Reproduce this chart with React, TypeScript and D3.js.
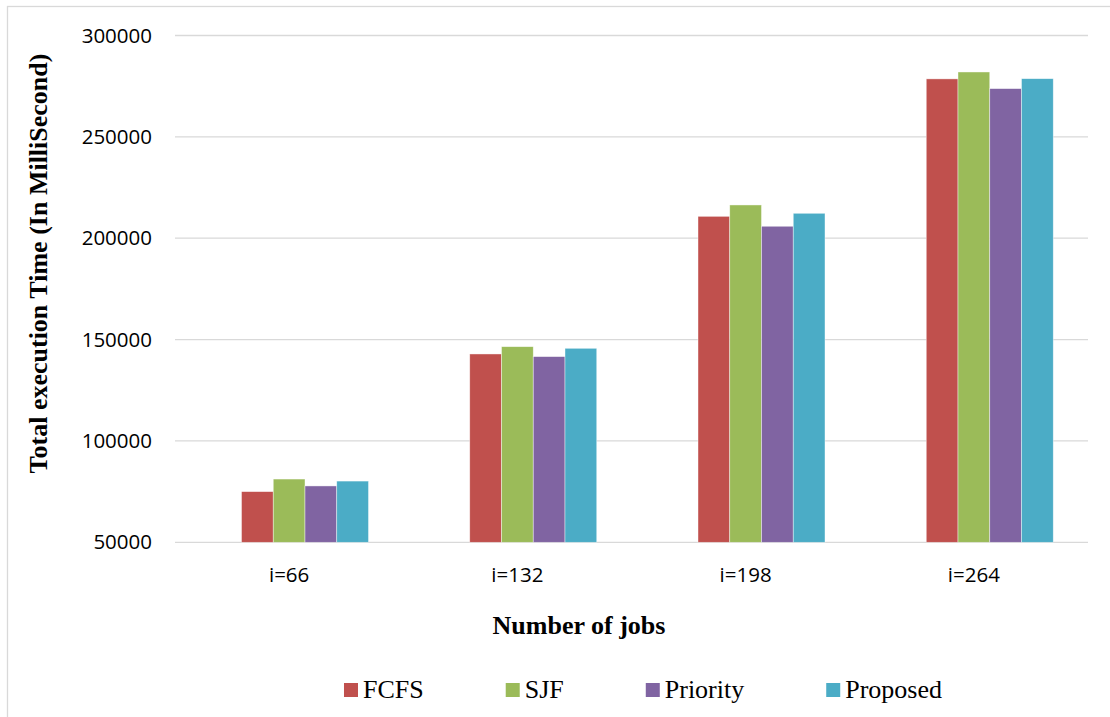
import React, { useEffect, useRef } from "react";
import * as d3 from "d3";

// Total execution time per scheduling policy, grouped by number of jobs
const categories = ["i=66", "i=132", "i=198", "i=264"];
const seriesNames = ["FCFS", "SJF", "Priority", "Proposed"];
const fcfs = [75000, 142900, 210800, 278600];
const sjf = [81200, 146500, 216400, 282000];
const priority = [77800, 141600, 205900, 273800];
const proposed = [80200, 145700, 212300, 278700];
const seriesValues = [fcfs, sjf, priority, proposed];
const seriesColors = ["#C0504D", "#9BBB59", "#8064A2", "#4BACC6"];
const yTicks = [50000, 100000, 150000, 200000, 250000, 300000];

const W = 1110;
const H = 717;

export default function App() {
  const ref = useRef<SVGSVGElement | null>(null);

  useEffect(() => {
    const svg = d3.select(ref.current);
    svg.selectAll("*").remove();

    const left = 175;
    const right = 1088;
    const top = 35.5;
    const bottom = 542.3;

    const y = d3.scaleLinear().domain([50000, 300000]).range([bottom, top]);
    const x0 = d3.scaleBand<string>().domain(categories).range([left, right]).paddingInner(0).paddingOuter(0);
    // five slots per cluster; the leading slot stays empty
    const slots = ["", ...seriesNames];
    const groupWidth = 158.75;
    const x1 = d3
      .scaleBand<string>()
      .domain(slots)
      .range([(x0.bandwidth() - groupWidth) / 2, (x0.bandwidth() + groupWidth) / 2]);

    // outer frame
    svg
      .append("rect")
      .attr("x", 7.5)
      .attr("y", 6.5)
      .attr("width", W + 20)
      .attr("height", H + 20)
      .attr("fill", "none")
      .attr("stroke", "#d9d9d9")
      .attr("stroke-width", 1.3);

    // gridlines
    svg
      .append("g")
      .selectAll("line")
      .data(yTicks)
      .join("line")
      .attr("x1", left)
      .attr("x2", right)
      .attr("y1", (d) => y(d))
      .attr("y2", (d) => y(d))
      .attr("stroke", "#d9d9d9")
      .attr("stroke-width", 1.3);

    // y tick labels
    svg
      .append("g")
      .selectAll("text")
      .data(yTicks)
      .join("text")
      .attr("x", 152)
      .attr("y", (d) => y(d) + 7)
      .attr("text-anchor", "end")
      .attr("font-family", "'Open Sans', sans-serif")
      .attr("font-size", 20.5)
      .attr("fill", "#000")
      .text((d) => String(d));

    // bars
    const groups = svg
      .append("g")
      .selectAll("g")
      .data(categories)
      .join("g")
      .attr("transform", (c) => `translate(${x0(c)},0)`);

    groups
      .selectAll("rect")
      .data((c, ci) =>
        seriesNames.map((s, si) => ({ s, v: seriesValues[si][categories.indexOf(c as string)], color: seriesColors[si] }))
      )
      .join("rect")
      .attr("x", (d) => x1(d.s)!)
      .attr("width", x1.bandwidth())
      .attr("y", (d) => y(d.v))
      .attr("height", (d) => y(50000) - y(d.v))
      .attr("fill", (d) => d.color)
      .attr("stroke", "#ffffff")
      .attr("stroke-opacity", 0.6)
      .attr("stroke-width", 0.7);

    // x category labels
    svg
      .append("g")
      .selectAll("text")
      .data(categories)
      .join("text")
      .attr("x", (c) => x0(c)! + x0.bandwidth() / 2)
      .attr("y", 582)
      .attr("text-anchor", "middle")
      .attr("font-family", "'Open Sans', sans-serif")
      .attr("font-size", 20.5)
      .attr("fill", "#000")
      .text((c) => c);

    // axis titles
    svg
      .append("text")
      .attr("x", 579)
      .attr("y", 634)
      .attr("text-anchor", "middle")
      .attr("font-family", "'Liberation Serif', 'Times New Roman', serif")
      .attr("font-weight", "bold")
      .attr("font-size", 26)
      .attr("fill", "#000")
      .text("Number of jobs");

    svg
      .append("text")
      .attr("transform", "translate(46.5,263.5) rotate(-90)")
      .attr("text-anchor", "middle")
      .attr("font-family", "'Liberation Serif', 'Times New Roman', serif")
      .attr("font-weight", "bold")
      .attr("font-size", 26)
      .attr("fill", "#000")
      .text("Total execution Time (In MilliSecond)");

    // legend
    const legend = svg.append("g");
    const items = seriesNames.map((name, i) => {
      const g = legend.append("g");
      g.append("rect").attr("width", 14).attr("height", 14).attr("y", 683).attr("fill", seriesColors[i]);
      const t = g
        .append("text")
        .attr("x", 19)
        .attr("y", 697.5)
        .attr("font-family", "'Liberation Serif', 'Times New Roman', serif")
        .attr("font-size", 26)
        .attr("fill", "#000")
        .text(name);
      const w = (t.node() as SVGTextElement).getComputedTextLength();
      return { g, w: 19 + w };
    });
    const gap = 82;
    const total = d3.sum(items, (d) => d.w) + gap * (items.length - 1);
    let cx = 643 - total / 2;
    items.forEach((it) => {
      it.g.attr("transform", `translate(${cx},0)`);
      cx += it.w + gap;
    });
  }, []);

  return (
    <svg
      ref={ref}
      width={W}
      height={H}
      style={{ position: "absolute", left: 0, top: 0, background: "#fff" }}
    />
  );
}
